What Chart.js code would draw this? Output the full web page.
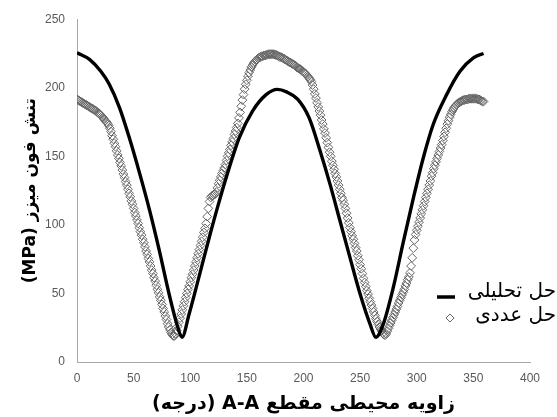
<!DOCTYPE html>
<html>
<head>
<meta charset="utf-8">
<script src="https://cdn.jsdelivr.net/npm/chart.js@4/dist/chart.umd.min.js"></script>
<style>
  html, body { margin: 0; padding: 0; background: #fff; }
  #wrap { width: 557px; height: 417px; }
</style>
</head>
<body>
<div id="wrap"><canvas id="chart" width="557" height="417" dir="rtl"></canvas></div>
<script>
// series labels / axis titles
const seriesLabels = ['حل تحلیلی', 'حل عددی']
const xTitle = 'زاویه محیطی مقطع A-A (درجه)'
const yTitle = 'تنش فون میزز (MPa)'

// axis ranges
const xRange = [0, 400]
const xStep = 50
const yRange = [0, 250]
const yStep = 50

// analytical solution (angle in degrees, stress in MPa)
const analyticAngles = [0, 11, 21, 28.5, 37.5, 46, 55, 64, 72.5, 81.5, 89, 92.7, 99, 108, 117, 125.7, 134.5, 143.3,
  155, 167, 177, 185, 195, 205, 214.6, 223.4, 232.2, 241, 250, 258.7, 264, 270.5, 279.3, 288, 297, 305.8,
  314.6, 326.4, 338.2, 350, 359]
const analyticValues = [225.5, 220.7, 212, 202.5, 185.5, 164, 138.5, 111, 82, 49, 25.3, 18, 35, 63, 91.5, 117.5, 141.8, 163.6,
  183, 195, 198.8, 197, 191.5, 178, 154, 129.7, 103, 76.3, 49.6, 27.8, 18, 27.8, 54.4, 87, 119.5, 149,
  173.4, 195, 212, 221.8, 225]

// numerical solution, one value per degree starting at 0
const numericValues = [
  191.5, 191, 190.5, 190, 189.5, 189, 188.5, 188, 187.5, 187,
  186.5, 186, 185.5, 185, 184.5, 184, 183.5, 183, 182, 181.5,
  181, 180, 179, 178, 177, 176, 175, 174, 172.5, 170.5,
  168, 165, 162.5, 159.5, 157, 154, 151, 148.5, 145.5, 143,
  140, 137, 134.5, 131.5, 129, 126, 123, 120.5, 117.5, 115,
  112, 109, 106.5, 103.5, 101, 98, 95, 92.5, 89.5, 87,
  84, 81, 78.5, 75.5, 73, 70, 67, 64.5, 61.5, 59,
  56, 53, 50.5, 47.5, 45, 42, 39, 36.5, 33.5, 31,
  28, 25.5, 23.5, 21.5, 20, 19, 19, 20.5, 23, 26,
  29, 32, 35, 38, 41, 44, 47, 50, 53, 55.5,
  58.5, 61.5, 64, 67, 70, 73, 76, 79, 82, 85,
  88, 91, 94.5, 97.5, 101, 106, 112, 117, 120, 121,
  121.5, 122, 122.5, 124, 127, 130, 132.5, 135, 137.5, 139.5,
  141.5, 144, 147, 150, 152.5, 155, 158, 160.5, 163, 166,
  168.5, 171, 174, 178, 182, 186.5, 191, 195, 199, 202.5,
  205.5, 208.5, 211, 213, 215, 216.5, 218, 219, 220, 220.5,
  221.5, 222, 222.5, 223, 223, 223.5, 223.5, 224, 224, 224.5,
  224.5, 224.5, 224.5, 224.5, 224.5, 224, 224, 223.5, 223, 222.5,
  222.5, 222, 221.5, 221, 220.5, 220, 219.5, 219, 218.5, 218,
  217.5, 217, 216.5, 216, 215, 214.5, 214, 213.5, 213, 212,
  211.5, 211, 210, 209, 208, 207, 206, 204.5, 202, 199,
  195.5, 192.5, 189, 186, 183, 180, 176.5, 173.5, 170, 167,
  163.5, 160, 156.5, 153, 150, 146.5, 143.5, 140.5, 137.5, 135,
  132, 129, 126, 123, 120, 118, 115, 112, 108.5, 105,
  101.5, 98, 95, 92, 89.5, 86.5, 83.5, 81, 77.5, 74.5,
  71, 68, 64.5, 61, 58, 55, 52, 49.5, 46.5, 44,
  41.5, 39, 36.5, 34, 31.5, 29.5, 27.5, 25.5, 24, 22.5,
  21, 20, 19.5, 20.5, 22.5, 24.5, 26.5, 28.5, 30.5, 32.5,
  34.5, 36.5, 38.5, 40.5, 43, 45, 47, 49, 51, 53,
  55.5, 57.5, 60, 62, 65, 70, 76, 83, 89, 93,
  96, 99, 102, 105, 108, 111, 114, 117, 120, 123,
  126, 129, 132, 135.5, 138, 141, 143.5, 146, 148.5, 151,
  153.5, 156, 158.5, 161.5, 164.5, 167.5, 170.5, 173.5, 176, 178.5,
  180.5, 182.5, 184, 185.5, 186.5, 187.5, 188.5, 189, 189.5, 190,
  190.5, 191, 191, 191.5, 191.5, 191.5, 192, 192, 192, 192,
  192, 192, 192, 192, 191.5, 191.5, 191, 190.5, 190, 190
]
const numericAngles = numericValues.map((_, i) => i)

const tickColor = '#595959'
const axisColor = '#a8a8a8'
const diamondColor = '#666666'

// legend drawn inside the plot, right side (text is right-to-left)
const sideLegend = {
  id: 'sideLegend',
  afterDraw(chart) {
    const ctx = chart.ctx
    const ds = chart.data.datasets
    ctx.save()
    ctx.direction = 'rtl'
    ctx.font = '20px "DejaVu Sans"'
    ctx.fillStyle = '#000'
    ctx.textAlign = 'right'
    ctx.textBaseline = 'middle'
    ctx.fillText(ds[0].label, 556, 292)
    ctx.fillText(ds[1].label, 556, 316)

    ctx.strokeStyle = '#000'
    ctx.lineWidth = 3.5
    ctx.beginPath()
    ctx.moveTo(437, 297)
    ctx.lineTo(455, 297)
    ctx.stroke()

    const cx = 450, cy = 318, r = 4
    ctx.strokeStyle = diamondColor
    ctx.lineWidth = 1
    ctx.beginPath()
    ctx.moveTo(cx - r, cy)
    ctx.lineTo(cx, cy - r)
    ctx.lineTo(cx + r, cy)
    ctx.lineTo(cx, cy + r)
    ctx.closePath()
    ctx.stroke()
    ctx.restore()
  }
}

const ctx = document.getElementById('chart').getContext('2d')
new Chart(ctx, {
  type: 'line',
  data: {
    datasets: [
      {
        label: seriesLabels[0],
        data: analyticAngles.map((a, i) => ({ x: a, y: analyticValues[i] })),
        borderColor: '#000',
        borderWidth: 3.4,
        pointRadius: 0,
        cubicInterpolationMode: 'monotone',
        fill: false
      },
      {
        label: seriesLabels[1],
        data: numericAngles.map((a, i) => ({ x: a, y: numericValues[i] })),
        showLine: false,
        pointStyle: 'rectRot',
        pointRadius: 4.4,
        borderWidth: 1,
        pointBorderColor: diamondColor,
        pointBackgroundColor: 'rgba(0,0,0,0)'
      }
    ]
  },
  options: {
    responsive: false,
    animation: false,
    layout: { padding: { top: 18, right: 27, bottom: 0, left: 0 } },
    plugins: {
      legend: { display: false },
      tooltip: { enabled: false }
    },
    scales: {
      x: {
        type: 'linear',
        min: xRange[0],
        max: xRange[1],
        ticks: { stepSize: xStep, color: tickColor, padding: 9, font: { family: 'Liberation Sans', size: 12 } },
        grid: { display: false, drawTicks: false },
        border: { color: axisColor, width: 1 },
        title: { display: true, text: xTitle, color: '#000', padding: { top: 0, bottom: 2 },
          font: { family: 'DejaVu Sans', size: 19, weight: 'bold' } },
        afterFit(scale) { scale.height = 55 }
      },
      y: {
        min: yRange[0],
        max: yRange[1],
        ticks: { stepSize: yStep, color: tickColor, padding: 12, font: { family: 'Liberation Sans', size: 12 } },
        grid: { display: false, drawTicks: false },
        border: { color: axisColor, width: 1 },
        title: { display: true, text: yTitle, color: '#000', padding: { top: 20, bottom: 0 },
          font: { family: 'DejaVu Sans', size: 17, weight: 'bold' } },
        afterFit(scale) { scale.width = 77 }
      }
    }
  },
  plugins: [sideLegend]
})
</script>
</body>
</html>
